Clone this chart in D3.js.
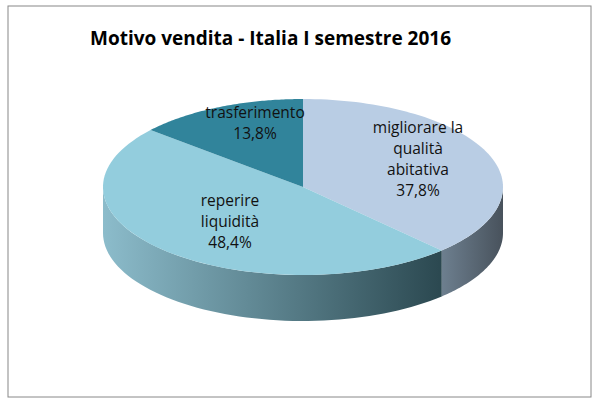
<!DOCTYPE html>
<html>
<head>
<meta charset="utf-8">
<script src="https://d3js.org/d3.v7.min.js"></script>
<style>body{margin:0;background:#fff}</style>
</head>
<body>
<svg id="chart" width="600" height="406"></svg>
<script>
const categories = ["migliorare la qualità abitativa", "reperire liquidità", "trasferimento"];
const values = [37.8, 48.4, 13.8];
const labels = [["migliorare la","qualità","abitativa","37,8%"], ["reperire","liquidità","48,4%"], ["trasferimento","13,8%"]];
const topColors = ["#b9cde4", "#93cddd", "#31849b"];

const svg = d3.select("#chart");
const cx = 303, cy = 187, rx = 200, ry = 88, depth = 46;

svg.append("rect").attr("x", 8).attr("y", 6).attr("width", 583).attr("height", 391)
  .attr("fill", "#fff").attr("stroke", "#888").attr("stroke-width", 1);
svg.append("text").attr("x", 90).attr("y", 45).text("Motivo vendita - Italia I semestre 2016")
  .attr("font-family", "Open Sans, sans-serif").attr("font-weight", "bold").attr("font-size", 19);

const defs = svg.append("defs");
const g1 = defs.append("linearGradient").attr("id", "side0").attr("x1", 0).attr("x2", 1);
g1.append("stop").attr("offset", 0).attr("stop-color", "#6d7f8f");
g1.append("stop").attr("offset", 1).attr("stop-color", "#48525c");
const g2 = defs.append("linearGradient").attr("id", "side1").attr("x1", 0).attr("x2", 1);
g2.append("stop").attr("offset", 0).attr("stop-color", "#8cbccb");
g2.append("stop").attr("offset", 1).attr("stop-color", "#2b4850");

const arcs = d3.pie().sort(null)(values);
const px = a => cx + rx * Math.sin(a), py = a => cy - ry * Math.cos(a);

function sidePath(a0, a1) {
  const s = Math.max(a0, Math.PI / 2), e = Math.min(a1, 3 * Math.PI / 2);
  if (s >= e) return null;
  const n = 60, pts = [];
  for (let i = 0; i <= n; i++) { const a = s + (e - s) * i / n; pts.push([px(a), py(a)]); }
  for (let i = n; i >= 0; i--) { const a = s + (e - s) * i / n; pts.push([px(a), py(a) + depth]); }
  return d3.line()(pts) + "Z";
}
function topPath(a0, a1) {
  const n = 80, pts = [[cx, cy]];
  for (let i = 0; i <= n; i++) { const a = a0 + (a1 - a0) * i / n; pts.push([px(a), py(a)]); }
  return d3.line()(pts) + "Z";
}

arcs.forEach((d, i) => {
  const p = sidePath(d.startAngle, d.endAngle);
  if (p) svg.append("path").attr("d", p).attr("fill", i < 2 ? `url(#side${i})` : "#1f5566");
});
arcs.forEach((d, i) => {
  svg.append("path").attr("d", topPath(d.startAngle, d.endAngle)).attr("fill", topColors[i]);
});

const labelPos = [[418, 133], [230, 206], [255, 118]];
labels.forEach((lines, i) => {
  const t = svg.append("text").attr("text-anchor", "middle")
    .attr("font-family", "Open Sans, sans-serif").attr("font-size", 15.5).attr("fill", "#111");
  lines.forEach((l, j) => t.append("tspan").attr("x", labelPos[i][0]).attr("y", labelPos[i][1] + j * 21).text(l));
});
</script>
</body>
</html>
